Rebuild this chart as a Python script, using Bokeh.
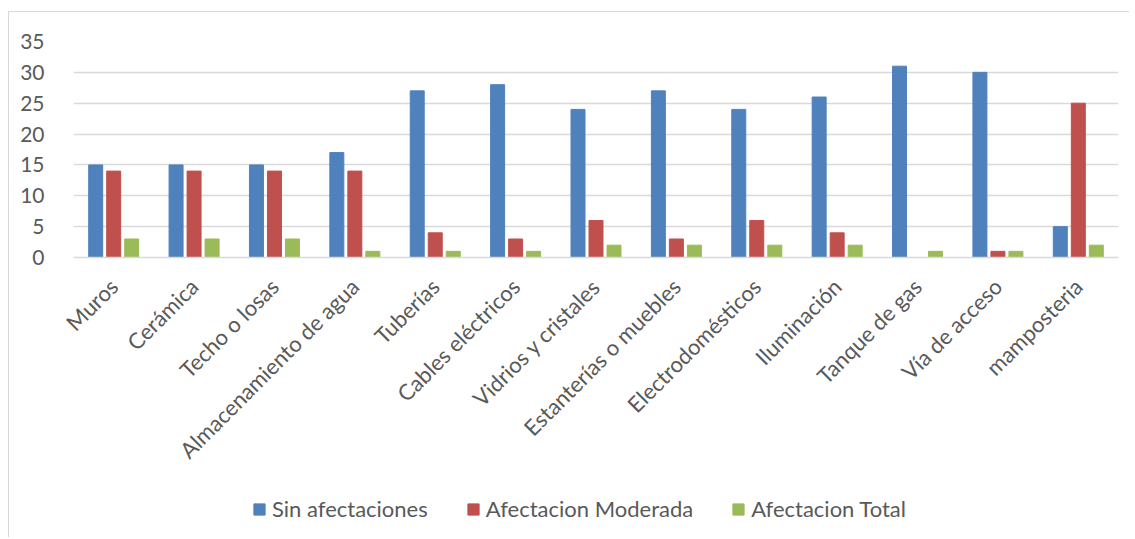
import math
from bokeh.plotting import figure
from bokeh.layouts import column
from bokeh.models import FactorRange, Range1d, FixedTicker, Legend, LegendItem
from bokeh.transform import dodge
from bokeh.embed import file_html
from bokeh.resources import INLINE

categories = ["Muros", "Cerámica", "Techo o losas", "Almacenamiento de agua", "Tuberías",
              "Cables eléctricos", "Vidrios y cristales", "Estanterías o muebles",
              "Electrodomésticos", "Iluminación", "Tanque de gas", "Vía de acceso", "mamposteria"]
sin_afectaciones = [15, 15, 15, 17, 27, 28, 24, 27, 24, 26, 31, 30, 5]
afectacion_moderada = [14, 14, 14, 14, 4, 3, 6, 3, 6, 4, 0, 1, 25]
afectacion_total = [3, 3, 3, 1, 1, 1, 2, 2, 2, 2, 1, 1, 2]
series_names = ["Sin afectaciones", "Afectacion Moderada", "Afectacion Total"]
y_ticks = [0, 5, 10, 15, 20, 25, 30, 35]

FONT = "Lato"
TXT = "#595959"
colors = ["#4f81bd", "#c0504d", "#9bbb59"]
cols = ["s0", "s1", "s2"]
offsets = [-0.224, 0.0, 0.224]

data = dict(cat=categories, s0=sin_afectaciones, s1=afectacion_moderada, s2=afectacion_total)

p = figure(x_range=FactorRange(*categories), y_range=Range1d(0, 35),
           width=1120, height=480, output_backend="svg", toolbar_location=None,
           min_border_left=64, min_border_right=11, min_border_top=29, min_border_bottom=235)
p.outline_line_color = None

for i in range(3):
    p.vbar(x=dodge("cat", offsets[i], range=p.x_range), top=cols[i], width=0.174, source=data,
           fill_color=colors[i], line_color=colors[i])

p.yaxis.ticker = FixedTicker(ticks=y_ticks)
p.ygrid.ticker = FixedTicker(ticks=y_ticks)
p.ygrid.grid_line_color = "#d9d9d9"
p.ygrid.grid_line_width = 1.5
p.xgrid.grid_line_color = None
p.yaxis.axis_line_color = None
p.yaxis.major_tick_line_color = None
p.yaxis.minor_tick_line_color = None
p.yaxis.major_label_text_font = FONT
p.yaxis.major_label_text_font_size = "21px"
p.yaxis.major_label_text_color = TXT
p.yaxis.major_label_standoff = 23

p.xaxis.axis_line_color = "#d9d9d9"
p.xaxis.axis_line_width = 1.5
p.xaxis.major_tick_line_color = None
p.xaxis.minor_tick_line_color = None
p.xaxis.major_label_orientation = math.pi / 4
p.xaxis.major_label_text_font = FONT
p.xaxis.major_label_text_font_size = "22px"
p.xaxis.major_label_text_color = TXT
p.xaxis.major_label_standoff = 19

# legend strip below the chart: same series, drawn outside its visible range, only for the legend keys
lg = figure(width=1120, height=45, x_range=FactorRange(*categories), y_range=Range1d(100, 101),
            output_backend="svg", toolbar_location=None, min_border=0,
            min_border_left=0, min_border_right=0, min_border_top=0, min_border_bottom=0,
            x_axis_location=None, y_axis_location=None)
lg.outline_line_color = None
lg.grid.visible = False
keys = [lg.vbar(x=dodge("cat", offsets[i], range=lg.x_range), top=cols[i], width=0.174, source=data,
                fill_color=colors[i], line_color=colors[i]) for i in range(3)]

legend = Legend(items=[LegendItem(label=n, renderers=[r]) for n, r in zip(series_names, keys)],
                orientation="horizontal", location=(179, 15))
legend.label_text_font = FONT
legend.label_text_font_size = "22px"
legend.label_text_color = TXT
legend.glyph_width = 14
legend.glyph_height = 14
legend.label_standoff = 6
legend.spacing = 38
legend.padding = 0
legend.margin = 0
legend.border_line_alpha = 0
legend.background_fill_alpha = 0
lg.add_layout(legend)

layout = column(p, lg, spacing=0,
                styles={"border-left": "1px solid #d9d9d9", "border-top": "1px solid #d9d9d9",
                        "margin-left": "8px", "margin-top": "11px"})

open("out.html", "w").write(file_html(layout, INLINE))
